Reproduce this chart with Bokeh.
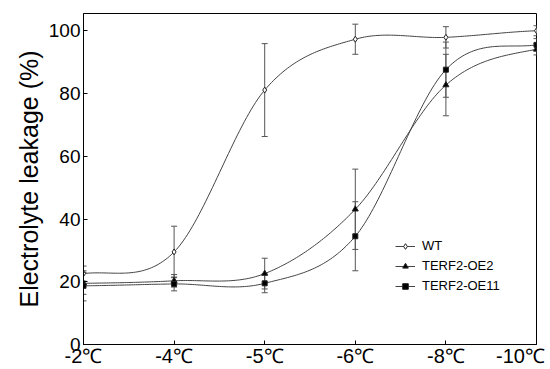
import numpy as np
from bokeh.plotting import figure
from bokeh.models import (FixedTicker, Range1d, Whisker, ColumnDataSource,
                          Legend, LegendItem, TeeHead)
from bokeh.embed import file_html
from bokeh.resources import INLINE

# ---- data ----
temps = ["-2℃", "-4℃", "-5℃", "-6℃", "-8℃", "-10℃"]
wt = [22.6, 29.5, 81.1, 97.3, 97.9, 100.0]
wt_err = [2.4, 8.2, 14.8, 4.8, 3.4, 1.6]
oe2 = [19.5, 20.3, 22.6, 43.1, 82.7, 94.1]
oe2_err = [3.5, 2.0, 4.9, 12.8, 9.8, 1.8]
oe11 = [18.7, 19.3, 19.5, 34.5, 87.6, 95.5]
oe11_err = [4.8, 2.2, 3.0, 11.0, 8.8, 2.0]
y_ticks = [0, 20, 40, 60, 80, 100]

FONT = "Liberation Sans"
pos = list(range(len(temps)))


def smooth_path(y, n=40):
    """Cardinal (Catmull-Rom) curve through the points, only to draw a smooth line."""
    y = np.asarray(y, float)
    m = len(y)
    tan = np.zeros(m)
    tan[1:-1] = (y[2:] - y[:-2]) / 2
    tan[0] = 0.5 * (y[1] - y[0])
    tan[-1] = 0.5 * (y[-1] - y[-2])
    xs, ys = [], []
    for i in range(m - 1):
        s = np.linspace(0, 1, n, endpoint=(i == m - 2))
        h00 = 2 * s**3 - 3 * s**2 + 1
        h10 = s**3 - 2 * s**2 + s
        h01 = -2 * s**3 + 3 * s**2
        h11 = s**3 - s**2
        yy = h00 * y[i] + h10 * tan[i] + h01 * y[i + 1] + h11 * tan[i + 1]
        xs.extend(i + s)
        ys.extend(yy)
    return xs, ys


p = figure(width=550, height=369, output_backend="svg", toolbar_location=None,
           x_range=Range1d(0, 5), y_range=Range1d(0, 105.5),
           min_border_left=83, min_border_right=14, min_border_top=13,
           min_border_bottom=0)
p.xgrid.visible = False
p.ygrid.visible = False
p.outline_line_color = "black"
p.outline_line_width = 1

labels = {i: t for i, t in enumerate(temps)}
labels[len(temps) - 1] = temps[-1] + "\u00a0"
p.xaxis.ticker = FixedTicker(ticks=pos)
p.xaxis.major_label_overrides = labels
p.yaxis.ticker = FixedTicker(ticks=y_ticks)
p.yaxis.axis_label = "Electrolyte leakage (%)"

for ax in (p.xaxis, p.yaxis):
    ax.axis_line_color = "black"
    ax.major_tick_line_color = "black"
    ax.major_tick_in = 4
    ax.major_tick_out = 0
    ax.minor_tick_line_color = None
    ax.major_label_text_font = FONT
    ax.major_label_text_font_size = "19px"
    ax.major_label_text_color = "black"
p.xaxis.major_label_text_font_size = "20px"
p.xaxis.major_label_standoff = 0
p.yaxis.major_label_standoff = 3
p.yaxis.axis_label_text_font = FONT
p.yaxis.axis_label_text_font_size = "25px"
p.yaxis.axis_label_text_font_style = "normal"
p.yaxis.axis_label_text_color = "black"
p.yaxis.axis_label_standoff = 3

series = [
    ("WT", wt, wt_err, "diamond", "white", 6),
    ("TERF2-OE2", oe2, oe2_err, "triangle", "black", 6),
    ("TERF2-OE11", oe11, oe11_err, "square", "black", 5),
]

items = []
for name, vals, errs, marker, fill, size in series:
    src = ColumnDataSource(dict(
        x=pos, y=vals,
        upper=[v + e for v, e in zip(vals, errs)],
        lower=[v - e for v, e in zip(vals, errs)]))
    w = Whisker(base="x", upper="upper", lower="lower", source=src,
                line_color="#555555", line_width=1,
                upper_head=TeeHead(size=6, line_color="#555555", line_width=1),
                lower_head=TeeHead(size=6, line_color="#555555", line_width=1))
    p.add_layout(w)
    sx, sy = smooth_path(vals)
    ln = p.line(sx, sy, line_color="#444444", line_width=1)
    sc = p.scatter("x", "y", source=src, marker=marker, size=size,
                   fill_color=fill, line_color="#222222", line_width=1)
    items.append(LegendItem(label=name, renderers=[ln, sc]))

legend = Legend(items=items, location=(312, 51), border_line_color=None,
                background_fill_alpha=0, label_text_font=FONT,
                label_text_font_size="13px", label_text_color="black",
                glyph_width=20, glyph_height=14,
                label_height=14, spacing=5, padding=0, margin=0,
                label_standoff=7)
p.add_layout(legend)

open("out.html", "w").write(file_html(p, INLINE))
